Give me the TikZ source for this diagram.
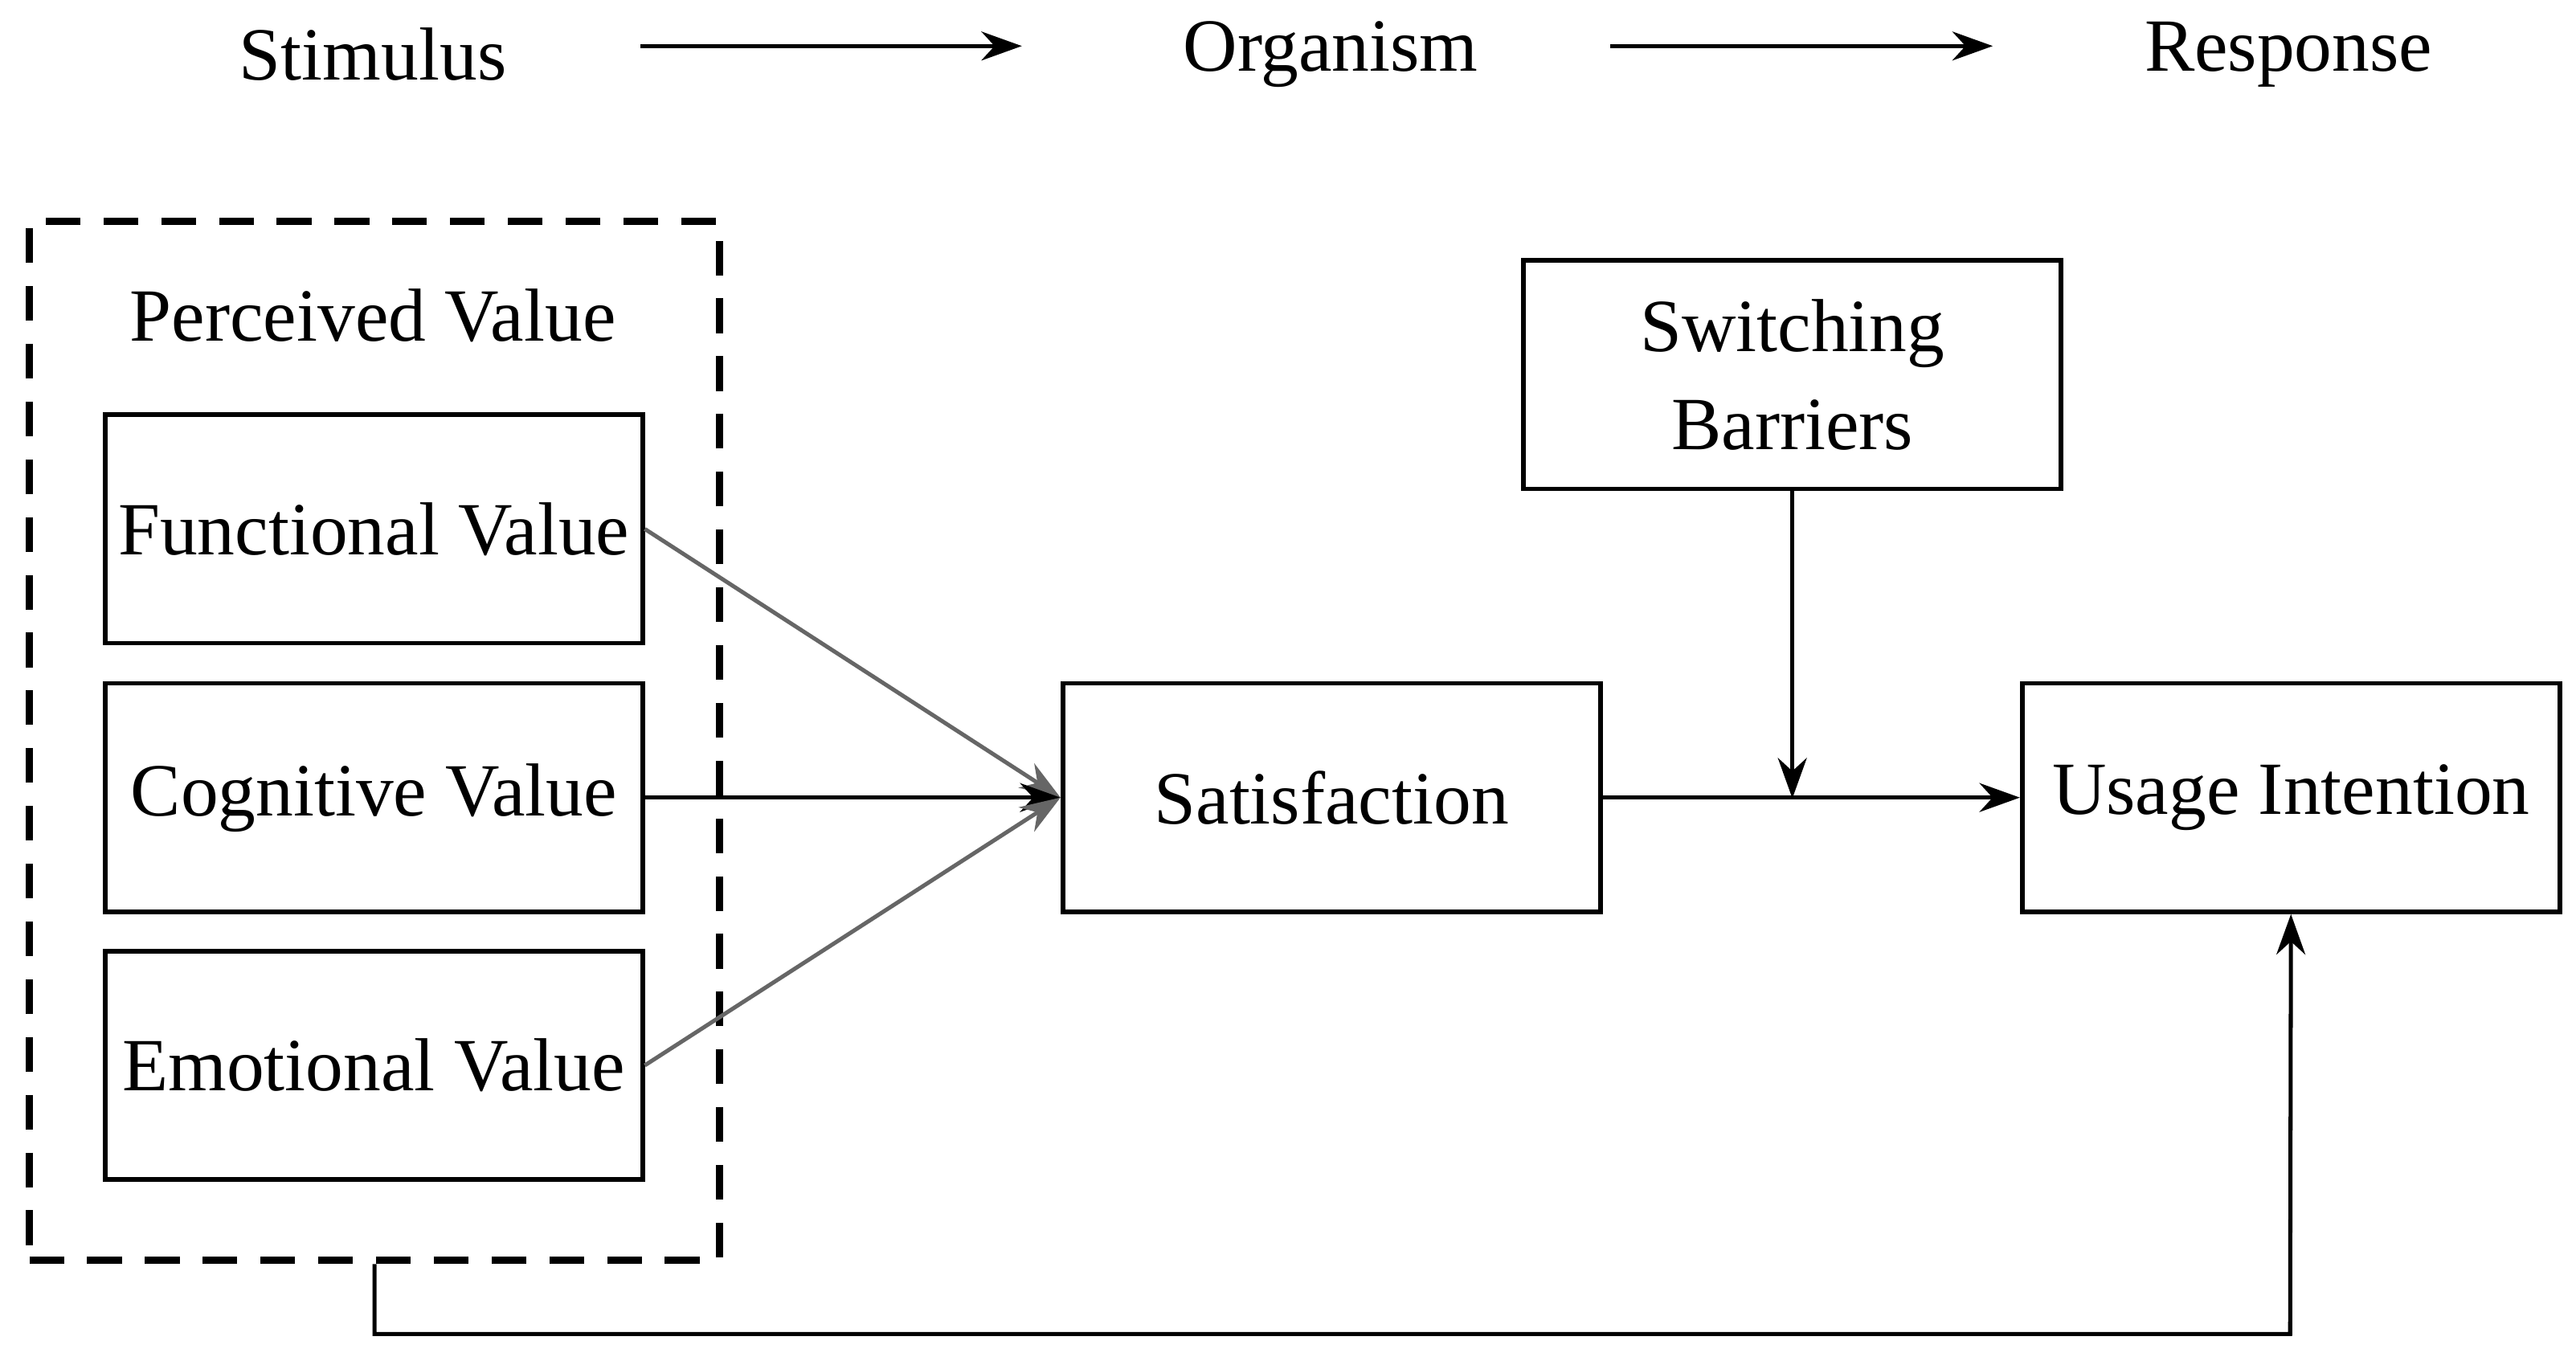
\documentclass[tikz,border=0pt]{standalone}
\usepackage{fontspec}
\setmainfont{Liberation Serif}
\usetikzlibrary{arrows.meta}
\begin{document}
\begin{tikzpicture}[x=0.01cm,y=-0.01cm,
  box/.style={draw,line width=0.8pt,minimum width=3.27cm,minimum height=1.39cm,inner sep=0pt,font=\fontsize{13}{15}\selectfont,align=center},
  lbl/.style={font=\fontsize{13}{15}\selectfont},
  arr/.style={-{Stealth[length=7pt,width=5pt]},line width=0.7pt},
  garr/.style={arr,draw=gray!80!black}]
\useasboundingbox (0,0) rectangle (1568,826);
\node[lbl] (s) at (227,33) {Stimulus};
\node[lbl] (o) at (810,33) {Organism};
\node[lbl] (r) at (1393,33) {Response};
\coordinate (a1) at (390,28); \coordinate (a2) at (622,28);
\coordinate (b1) at (980,28); \coordinate (b2) at (1213,28);
\draw[arr] (a1) -- (a2);
\draw[arr] (b1) -- (b2);
\node[draw,line width=1.3pt,dash pattern=on 6pt off 4pt,minimum width=4.2cm,minimum height=6.32cm,inner sep=0pt] (pv) at (228,451) {};
\node[lbl] (pvl) at (227,192) {Perceived Value};
\node[box] (f) at (227.5,322) {Functional Value};
\node[box] (c) at (227.5,485.5) {Cognitive Value};
\node[box] (e) at (227.5,648.5) {Emotional Value};
\node[box] (sat) at (810.5,485.5) {Satisfaction};
\node[box] (sw) at (1091,228) {Switching\\[2pt]Barriers};
\node[box] (u) at (1394.5,485.5) {Usage Intention};
\draw[garr] (f.east) -- (sat.west);
\draw[arr] (c.east) -- (sat.west);
\draw[garr] (e.east) -- (sat.west);
\draw[arr] (sat.east) -- (u.west);
\coordinate (m) at (1091,486);
\draw[arr] (sw.south) -- (m);
\coordinate (d1) at (228,812); \coordinate (d2) at (1394,812);
\draw[arr] (pv.south) -- (d1) -- (d2) -- (u.south);
\end{tikzpicture}
\end{document}
